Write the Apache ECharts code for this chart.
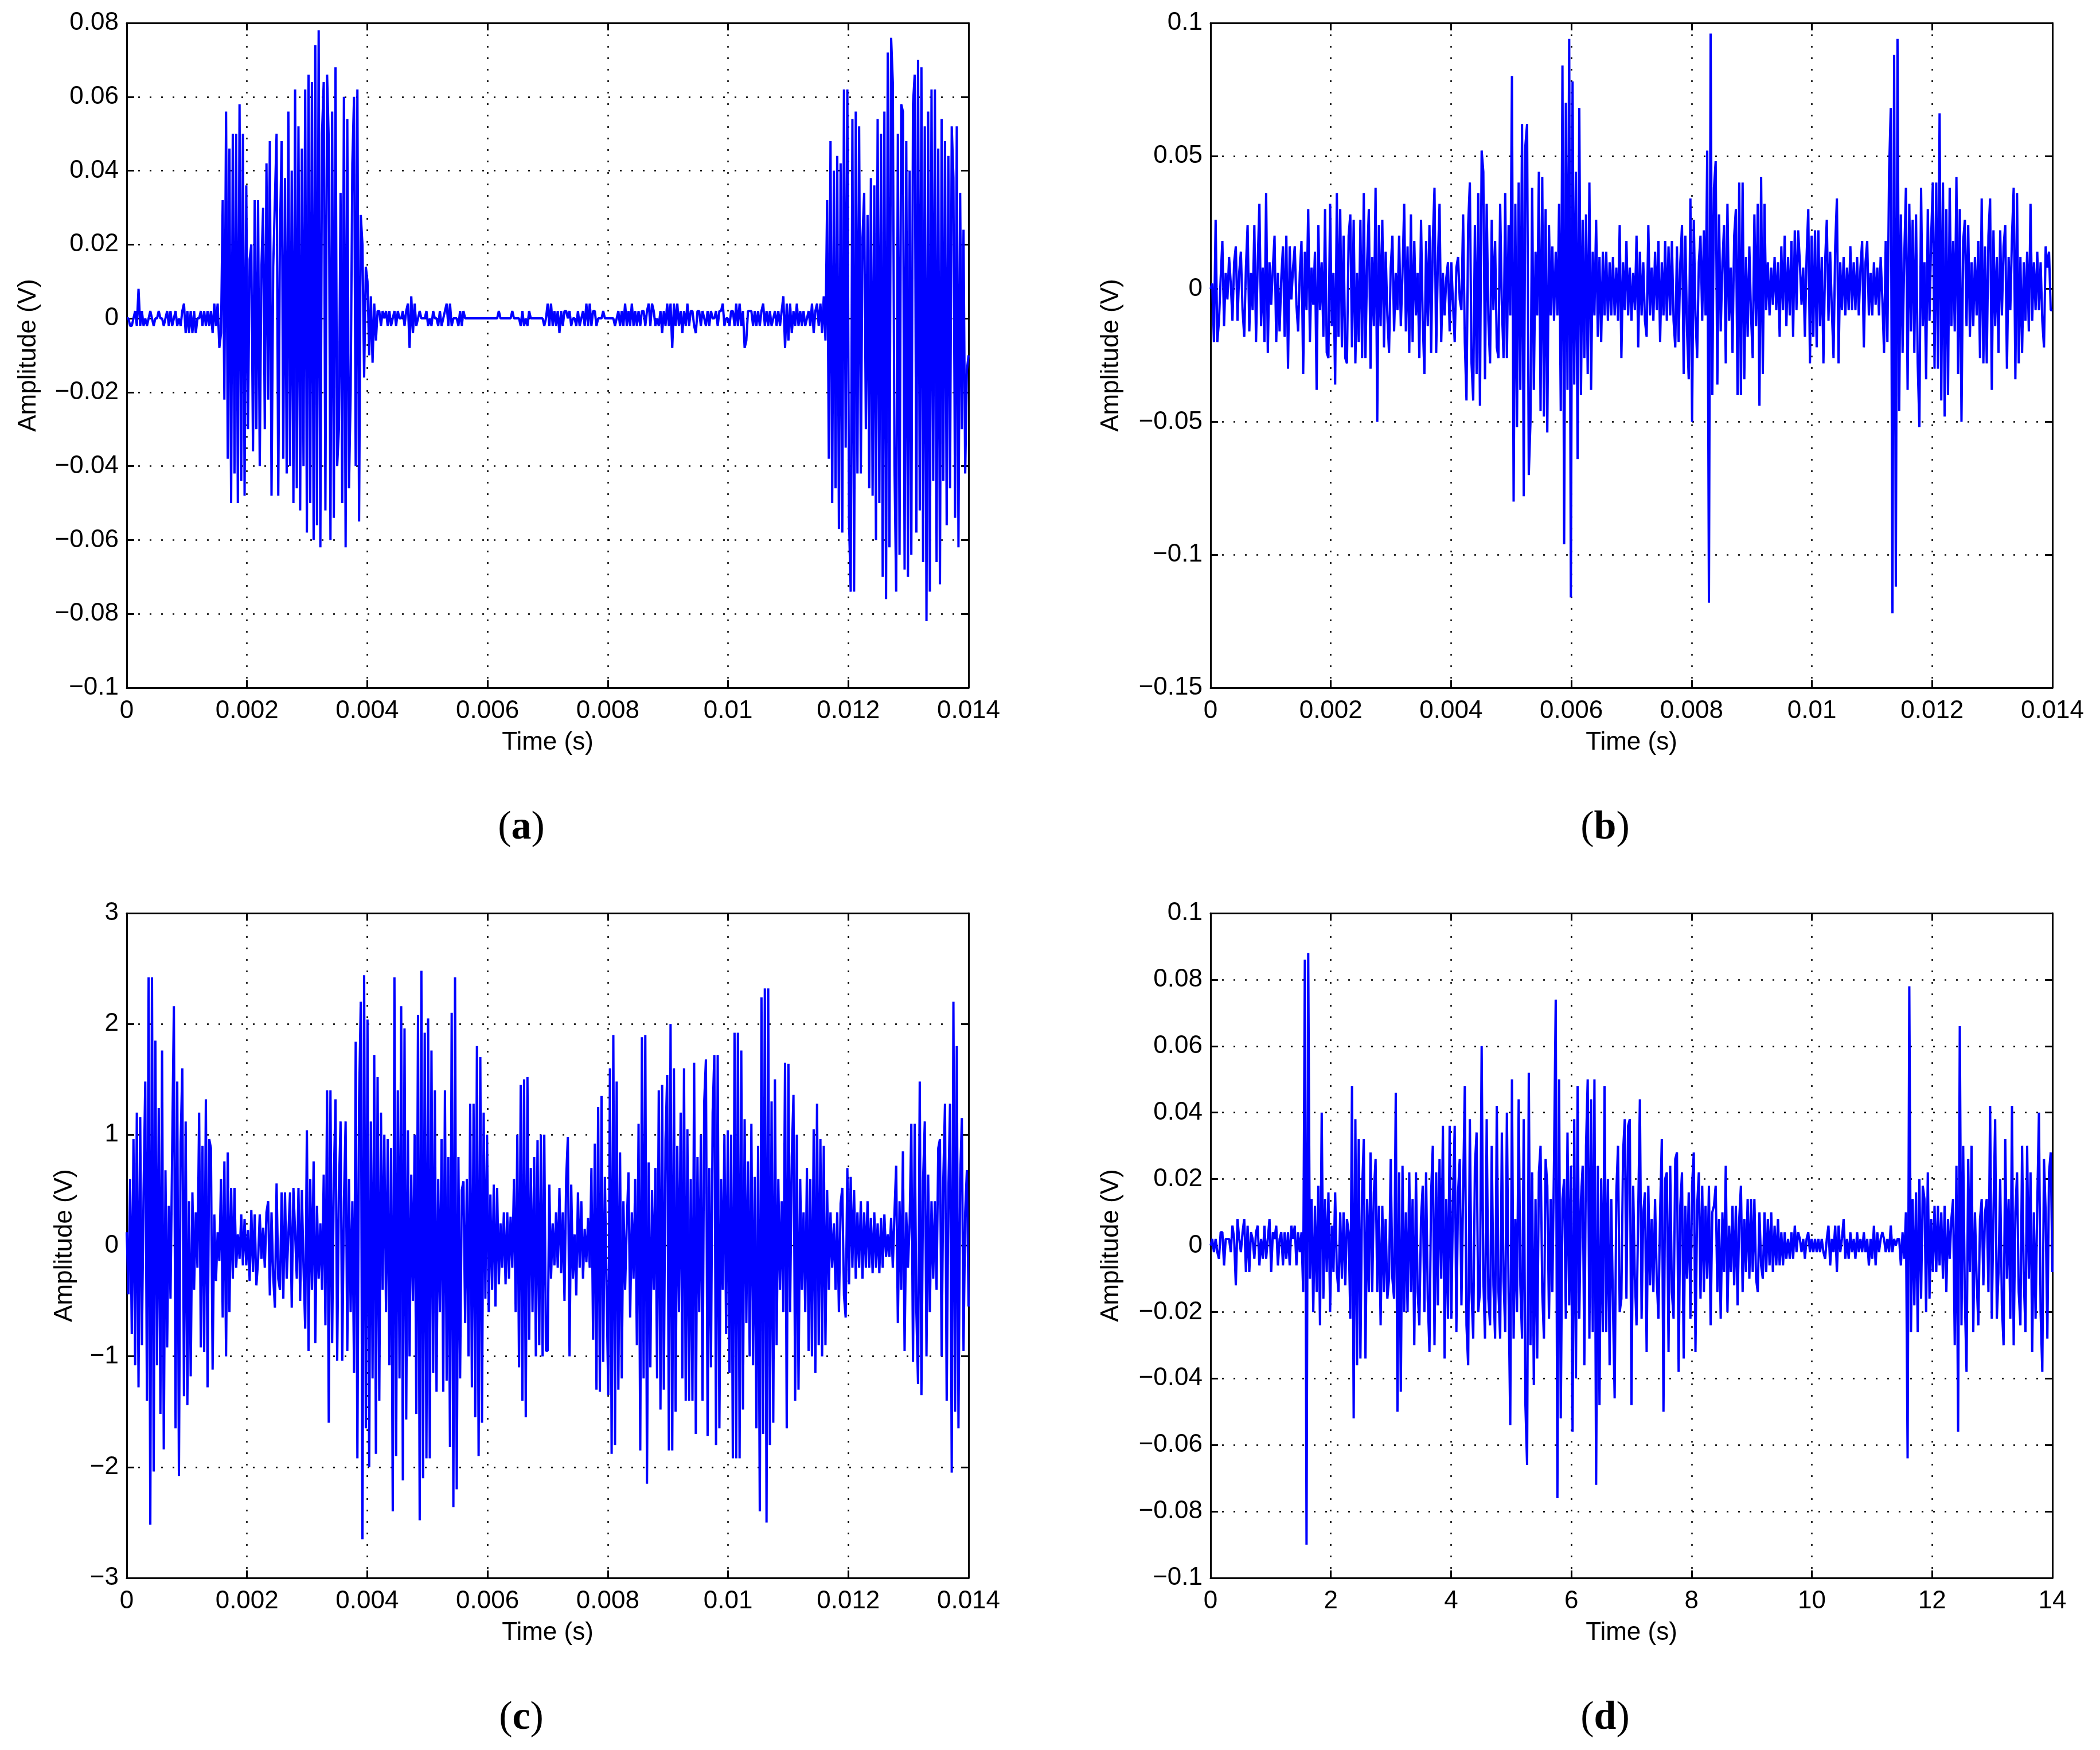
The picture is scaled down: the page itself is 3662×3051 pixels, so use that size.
<!DOCTYPE html>
<html><head><meta charset="utf-8">
<style>html,body{margin:0;padding:0;background:#fff}#c{width:3662px;height:3051px}</style>
<script src="https://cdn.jsdelivr.net/npm/echarts@6/dist/echarts.min.js"></script>
</head><body><div id="c"></div>
<script>
// Sample spacing of the traces (one value every 0.028 ms / 0.028 s)
const stepSeconds = 0.000028;
const stepSecondsD = 0.028;

// Panel (a), millivolts
const ampA_mV = [
0,0,-2,-2,0,2,-2,8,-2,2,-2,0,-2,0,2,0,-2,0,0,2,0,0,-2,0,2,-2,2,-2,0,2,-2,0,-2,2,4,-4,2,-4,2,-4,2,-4,0,0,2,-2,2,-2,2,-2,
2,-4,4,-2,4,-8,-4,32,-22,56,-38,46,-50,50,-42,50,-50,58,-44,50,-48,36,-30,16,20,-36,32,-30,32,-40,14,30,-30,42,-22,48,-48,14,32,50,-48,22,48,-38,38,-42,56,-40,40,-50,
62,-46,52,-52,46,-40,62,-58,66,-50,64,-60,74,-56,78,-62,50,64,-52,66,48,-60,56,-54,68,-40,-30,34,-50,60,-62,54,-46,-20,42,60,-40,62,-55,28,20,-16,14,10,-10,6,-12,4,-6,2,
2,-2,2,0,2,-2,2,-2,0,2,-2,2,0,0,2,-2,2,4,-8,6,-4,4,-2,0,2,0,0,0,2,-2,0,-2,2,0,0,-2,2,-2,0,2,4,-2,4,-2,0,0,0,-2,2,-2,
2,0,0,0,0,0,0,0,0,0,0,0,0,0,0,0,0,0,0,0,0,2,0,0,0,0,0,0,0,2,0,0,0,0,-2,2,-2,0,-2,2,0,0,0,0,0,0,0,0,-2,0,
4,-2,4,-2,2,-2,2,-4,2,-2,2,2,0,2,-2,0,0,-2,2,-2,0,2,-2,4,-2,4,-2,2,2,-2,0,0,0,2,0,0,0,0,0,0,-2,0,2,-2,2,-2,4,-2,2,-2,
4,-2,2,-2,2,-2,2,2,-2,2,4,-2,4,2,-2,0,-2,2,-4,2,-2,4,-2,4,-8,4,-2,4,-2,2,-4,2,-2,4,-2,2,2,-2,-4,2,2,-2,2,0,-2,2,-2,2,0,0,
2,-2,2,2,4,-2,0,0,-2,2,2,-2,4,-2,4,-2,2,-8,-6,2,2,2,-2,2,-2,2,-2,2,4,-2,2,-2,2,-2,0,2,-2,2,-2,2,6,-8,4,-6,4,-4,2,-2,4,-2,
2,-2,2,-2,0,2,-2,4,-4,2,4,-2,4,-4,6,-6,32,-38,48,-50,40,-46,44,-57,42,-58,62,-35,62,-55,-74,54,-74,56,-42,52,-42,22,34,-30,28,-46,38,-48,36,-60,54,-50,50,-70,
56,-76,72,-62,76,64,-40,-74,50,-64,58,56,-68,48,-70,40,-64,58,66,-58,70,-52,68,-66,52,-82,56,-74,62,-44,62,-66,46,-72,54,-44,48,-56,44,-46,52,38,-54,52,-62,34,-30,24,-42,-14,
-10];

// Panel (b), millivolts
const ampB_mV = [
0,2,-20,26,-20,-12,4,18,-14,6,-4,12,2,-12,10,16,-12,6,14,-8,-18,8,24,-16,6,-8,24,-20,10,32,-14,8,-20,36,-24,10,-6,8,20,-20,6,-16,4,16,-18,20,-30,16,-4,8,
16,-6,-16,6,18,-32,14,-8,30,-20,8,-6,14,-38,24,-8,10,-18,30,-24,-26,32,-14,6,-36,36,-18,30,-22,20,-26,-28,20,28,-22,26,-28,6,-20,26,-26,36,-26,10,30,-30,12,-14,38,-50,
24,-14,26,-22,14,-10,-24,8,20,-16,6,-8,20,-14,6,32,-16,16,-24,28,-20,18,-10,6,-26,26,-12,-32,18,-14,24,-24,18,38,-24,10,32,-20,6,-10,4,10,-16,10,-6,-20,8,12,-4,-8,
28,-20,-42,24,40,-28,-42,24,-32,36,-44,52,44,-34,32,-12,-28,26,-8,18,-22,-26,32,-6,-26,36,-26,24,-10,80,-80,32,-52,40,-38,62,-78,54,62,-70,-50,38,-38,14,-10,44,-46,42,-48,30,
-54,24,-10,16,-12,14,-10,32,-46,84,-96,70,-38,94,-116,78,-36,44,-64,68,-40,26,-26,28,-32,40,-38,14,-10,26,-18,12,-20,14,-10,14,-12,10,-10,12,-10,8,-12,24,-26,10,-8,18,-10,8,
-12,6,-8,20,-22,14,-10,10,-12,-18,24,-10,8,-12,14,-8,18,-20,10,-10,18,-12,16,-10,18,-12,-22,16,-20,10,24,-32,20,-16,-34,34,-50,26,-10,-26,10,20,-12,22,-10,52,-118,96,-40,38,
48,-36,28,-16,10,24,-28,32,-12,8,-24,20,30,-40,40,-40,40,-34,12,-18,16,-10,-26,28,-14,32,-44,42,-32,32,-8,10,-10,8,-6,12,-8,10,-18,16,-8,20,-14,12,-10,18,-18,22,-8,22,
10,-6,8,-18,12,30,-28,20,-18,22,-22,22,-14,12,-28,10,26,-12,14,-8,-26,16,34,-28,10,-8,12,-10,8,-8,16,-8,10,-8,12,-10,8,18,-22,10,18,-10,6,-10,10,-6,8,-10,12,-4,
-24,18,-20,44,68,-122,88,-112,94,-46,28,-24,12,38,-38,32,-16,26,-24,28,-28,-52,38,-14,10,-34,30,-12,20,40,-30,40,-30,66,-42,40,-48,30,-40,38,-14,18,-16,42,-32,30,-50,18,26,-14,
24,-18,10,-14,12,-10,18,-26,34,-28,16,-28,20,34,-38,22,-14,12,-24,22,-10,16,24,-30,12,-8,20,38,-34,36,-28,12,-24,10,-12,14,-16,32,-12,10,-8,14,-8,10,-12,-22,16,8,14,-8,
-8];

// Panel (c), hundredths of a volt
const ampC_cV = [
12,-44,60,-80,96,-108,120,-128,116,-90,48,148,-140,242,-252,242,-204,185,-108,124,-152,176,-184,68,-92,36,-48,88,216,-165,148,-208,92,160,-136,112,-144,40,-118,48,-40,30,-20,120,-92,90,-96,132,-128,96,
88,-112,28,-32,12,-14,60,-65,76,-100,84,-60,52,-30,52,-20,10,-12,28,-18,24,-18,14,-32,32,-24,28,-36,-14,28,-12,16,-20,30,40,-45,30,-28,-56,56,-30,-40,48,-48,48,-30,10,48,-56,52,
12,-30,52,-50,50,-20,-75,104,-95,60,-40,76,-88,36,-30,20,-40,64,-72,140,-160,140,-88,60,132,-104,50,112,-104,40,112,-95,60,-60,40,-115,184,-192,130,220,-265,244,-165,204,-200,112,-120,172,-188,152,
-140,120,-40,100,-60,96,-108,88,-240,242,-190,140,-120,216,-212,196,-157,104,-100,64,-50,100,-152,208,-248,248,-210,192,-192,205,-192,176,-115,140,-132,60,-60,96,-132,140,-122,80,-182,210,-236,242,-220,80,-120,50,
58,-70,60,-100,128,-128,128,-155,180,-190,170,-160,120,-48,100,-60,46,-40,55,-55,52,-35,20,-20,30,-35,30,-30,26,-20,60,-60,100,-110,145,-140,150,-155,152,-85,70,-60,80,-100,95,-90,100,-100,100,-95,
-95,55,-30,20,-18,30,-20,52,-25,30,-50,60,98,-100,55,-30,10,-45,48,-20,40,-30,15,-15,25,-20,70,-85,92,-130,125,-132,135,-105,62,-40,-135,160,-188,190,-180,148,-130,84,-120,40,-40,20,66,-65,
30,-30,60,-90,110,-185,188,-120,190,-215,75,-110,50,-40,70,-120,140,-148,145,-130,95,154,-185,200,-185,160,-150,90,-60,120,-120,160,-140,105,-140,60,-140,165,-170,80,-60,100,-140,130,168,-172,70,-110,120,172,
-180,172,-165,60,-40,100,-80,104,-115,100,-192,192,-192,192,-192,176,-148,114,-70,76,-100,110,-108,62,-165,90,-240,224,-170,232,-250,232,-180,130,-160,150,-90,60,-40,40,-60,165,-165,164,-60,80,136,-140,100,-130,
60,-40,30,-60,70,-95,60,-100,105,-115,128,-90,96,-100,90,-90,50,-40,30,-20,20,-40,30,-60,38,52,-45,-65,70,-35,62,-20,50,-30,30,-20,40,-30,30,-20,40,-20,25,-25,30,-20,20,-25,25,-20,
28,-10,10,-10,25,-20,30,72,-70,40,-40,85,-95,30,-20,20,110,-105,110,-60,-125,148,-135,60,112,-100,64,-60,40,-30,40,-40,88,96,-100,60,128,-140,50,128,-205,220,-150,180,-165,60,115,-95,30,68,
-55];

// Panel (d), millivolts
const ampD_mV = [
0,2,-2,2,-2,-4,4,4,-6,2,2,2,-2,6,2,-12,8,2,-2,4,8,-8,6,-8,4,2,-4,4,6,-6,2,-4,6,-4,2,8,-8,4,2,6,-6,2,4,-6,4,-4,4,-6,6,2,
6,-6,4,-2,4,-14,86,-90,88,-10,14,-20,12,-14,18,-24,40,-16,14,-8,16,-20,6,-8,16,-8,-14,10,-10,10,-12,8,4,-22,48,-52,38,-36,32,-34,16,32,-34,14,-14,28,-14,16,26,-14,
12,-24,12,-14,8,-16,-10,26,-10,-16,46,-50,22,-44,24,-20,10,-20,22,-14,14,-30,22,-14,-24,8,18,-20,22,-16,-32,16,30,-30,22,-18,26,-10,36,-34,14,-22,36,-22,14,36,-26,16,26,-18,
16,48,-24,-36,38,-14,-28,24,34,-20,-14,60,-10,-28,38,-16,-24,30,-12,-28,42,-14,-28,34,-10,-26,40,-14,-54,50,-28,8,-20,44,-12,-28,38,-48,-66,52,-30,22,-42,14,-34,22,30,-14,-28,26,
18,-22,14,-14,26,74,-76,50,-52,14,20,-22,34,-18,24,-56,38,-40,48,-22,14,24,-36,30,50,-28,44,-26,50,-72,24,-48,20,-26,48,-26,20,-36,14,-18,-46,16,30,-20,-16,28,38,-16,36,38,
-48,18,-10,-24,10,44,-22,10,16,-32,18,-12,8,-14,14,-10,-22,10,32,-50,20,22,-32,24,-14,-22,26,28,-38,12,22,-34,12,-10,16,-22,18,28,-32,12,22,-16,18,-14,12,-10,18,-24,10,12,
18,-14,8,-22,10,-8,24,-20,6,-8,12,-12,12,-18,8,18,-14,8,-8,14,-10,14,-8,14,-10,-14,10,-6,-10,10,-8,8,-6,10,-8,6,-6,8,-6,4,-6,4,-4,2,-4,4,-4,6,-2,4,
2,-2,2,-4,2,4,-2,2,-2,2,-2,2,-2,2,-2,-4,2,6,-6,2,-2,6,-8,6,-2,2,8,-4,2,-4,4,-2,2,-4,4,-2,2,-2,4,-2,2,-6,2,-4,6,-6,4,-2,2,4,
2,-2,2,-2,6,-2,2,0,2,2,-6,4,-4,10,-64,78,-26,14,-18,16,-26,20,-16,18,14,-20,22,-16,8,-8,12,-8,12,-6,10,-10,12,-14,8,-4,8,14,-30,24,-56,66,-24,30,-16,-38,
26,-8,30,-26,10,-10,-24,8,14,-12,10,14,-14,42,-22,10,38,-22,-8,20,-18,-30,32,-10,14,-22,42,-30,10,22,-14,-24,30,-10,-26,30,-10,22,-32,10,-22,12,40,-20,-38,26,10,-28,22,28,
-8];

const yTicksA = {min:-0.1, max:0.08, interval:0.02};
const yTicksB = {min:-0.15, max:0.1, interval:0.05};
const yTicksC = {min:-3, max:3, interval:1};
const yTicksD = {min:-0.1, max:0.1, interval:0.02};

const FONT = 'Liberation Sans';
const panels = [
 {label:'a', vals:ampA_mV, unit:0.001, step:stepSeconds,  xMax:0.014, xInt:0.002, y:yTicksA, left:221, top:40,   nameGap:171},
 {label:'b', vals:ampB_mV, unit:0.001, step:stepSeconds,  xMax:0.014, xInt:0.002, y:yTicksB, left:2111,top:40,   nameGap:173},
 {label:'c', vals:ampC_cV, unit:0.01,  step:stepSeconds,  xMax:0.014, xInt:0.002, y:yTicksC, left:221, top:1592, nameGap:108},
 {label:'d', vals:ampD_mV, unit:0.001, step:stepSecondsD, xMax:14,    xInt:2,     y:yTicksD, left:2111,top:1592, nameGap:173}
];
const W = 1468, H = 1159;
const fmt = v => { const r = +v.toFixed(4); return r < 0 ? '\u2212' + String(-r) : String(r); };
const line = {show:true, onZero:false, lineStyle:{color:'#000', width:3}};
const dots = {show:true, lineStyle:{color:'#000', width:2.5, type:[3,17]}};
const tickIn = {show:true, inside:true, length:13, lineStyle:{color:'#000', width:3}};
const lab = {color:'#000', fontFamily:FONT, fontSize:44, formatter:fmt};

const option = {animation:false, backgroundColor:'#fff', grid:[], xAxis:[], yAxis:[], series:[], title:[]};
panels.forEach((p,i)=>{
  option.grid.push({left:p.left, top:p.top, width:W, height:H, show:false});
  const xb = {type:'value', gridIndex:i, min:0, max:p.xMax, interval:p.xInt, axisLine:line, axisTick:tickIn};
  const yb = {type:'value', gridIndex:i, min:p.y.min, max:p.y.max, interval:p.y.interval, axisLine:line, axisTick:tickIn};
  option.xAxis.push(Object.assign({}, xb, {position:'bottom', splitLine:dots, axisLabel:Object.assign({margin:19}, lab),
    name:'Time (s)', nameLocation:'middle', nameGap:74, nameTextStyle:{color:'#000', fontFamily:FONT, fontSize:44}}));
  option.xAxis.push(Object.assign({}, xb, {position:'top', splitLine:{show:false}, axisLabel:{show:false}}));
  option.yAxis.push(Object.assign({}, yb, {position:'left', splitLine:dots, axisLabel:Object.assign({margin:14}, lab),
    name:'Amplitude (V)', nameLocation:'middle', nameRotate:90, nameGap:p.nameGap-22, nameTextStyle:{color:'#000', fontFamily:FONT, fontSize:44}}));
  option.yAxis.push(Object.assign({}, yb, {position:'right', splitLine:{show:false}, axisLabel:{show:false}}));
  option.series.push({type:'line', xAxisIndex:i*2, yAxisIndex:i*2, showSymbol:false, symbol:'none', sampling:false, smooth:false, z:5,
    lineStyle:{color:'#0000ff', width:4}, data:p.vals.map((v,k)=>[k*p.step, +(v*p.unit).toFixed(5)])});
  const s = {color:'#000', fontFamily:'Liberation Serif', fontSize:70, fontWeight:'normal'};
  option.title.push({text:'{p|(}{b|'+p.label+'}{p|)}', left:p.left+688, top:p.top+1369, textAlign:'center', padding:0,
    textStyle:{fontWeight:'normal', fontFamily:'Liberation Serif', fontSize:70, rich:{p:s, b:Object.assign({}, s, {fontWeight:'bold'})}}});
});
const chart = echarts.init(document.getElementById('c'), null, {renderer:'canvas', width:3662, height:3051});
chart.setOption(option);
</script></body></html>
